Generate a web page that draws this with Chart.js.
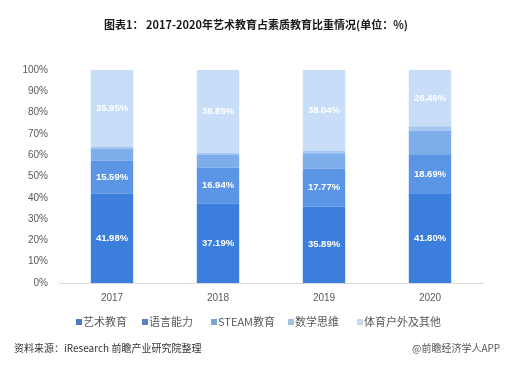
<!DOCTYPE html>
<html>
<head>
<meta charset="utf-8">
<script src="https://cdn.jsdelivr.net/npm/chart.js@4.4.0/dist/chart.umd.min.js"></script>
<style>
  html, body { margin: 0; padding: 0; background: #fff; }
  #grafico { display: block; }
</style>
</head>
<body>
<canvas id="grafico" width="518" height="368"></canvas>
<script>
const anos = ['2017', '2018', '2019', '2020'];
const series = ['艺术教育', '语言能力', 'STEAM教育', '数学思维', '体育户外及其他'];
const arteEducacao = [41.98, 37.19, 35.89, 41.80];
const linguagem = [15.59, 16.94, 17.77, 18.69];
const steam = [5.6, 6.0, 7.3, 11.1];
const matematica = [0.88, 1.02, 1.0, 1.95];
const esporte = [35.95, 38.85, 38.04, 26.46];
const rotulados = [true, true, false, false, true];
const yTicks = [0, 10, 20, 30, 40, 50, 60, 70, 80, 90, 100];

const titulo = '图表1： 2017-2020年艺术教育占素质教育比重情况(单位：%)';
const fonte = '资料来源：iResearch 前瞻产业研究院整理';
const marca = '@前瞻经济学人APP';

const cores = ['#3b7edb', '#5b95e6', '#7eadeb', '#a6c7f2', '#c7ddf8'];
const coresLegenda = ['#4a7bc4', '#5583c4', '#7aa3d2', '#a4bfe0', '#c9daee'];
const valores = [arteEducacao, linguagem, steam, matematica, esporte];

const cjk = '"Microsoft YaHei", "Noto Sans CJK SC", sans-serif';
const latina = '"Liberation Sans", Arial, sans-serif';

const extras = {
    id: 'extras',
    afterDatasetsDraw(chart) {
        const ctx = chart.ctx;
        // rótulos dentro das barras
        ctx.save();
        ctx.fillStyle = '#ffffff';
        ctx.font = 'bold 9.5px ' + latina;
        ctx.textAlign = 'center';
        ctx.textBaseline = 'middle';
        chart.data.datasets.forEach((ds, i) => {
            if (!rotulados[i]) return;
            const meta = chart.getDatasetMeta(i);
            meta.data.forEach((bar, j) => {
                const meio = (bar.y + bar.base) / 2;
                ctx.fillText(ds.data[j].toFixed(2) + '%', bar.x, meio);
            });
        });
        ctx.restore();
    },
    afterDraw(chart) {
        const ctx = chart.ctx;
        ctx.save();
        // título
        ctx.fillStyle = '#1a1a1a';
        ctx.font = 'bold 11px ' + cjk;
        ctx.textAlign = 'center';
        ctx.textBaseline = 'middle';
        ctx.fillText(titulo, 256, 25);

        // legenda
        const posX = [76, 142, 211, 288, 357];
        ctx.font = '11px ' + cjk;
        ctx.textAlign = 'left';
        series.forEach((nome, i) => {
            ctx.fillStyle = coresLegenda[i];
            ctx.fillRect(posX[i], 319, 6, 6);
            ctx.fillStyle = '#595959';
            ctx.fillText(nome, posX[i] + 7, 322);
        });

        // rodapé
        ctx.fillStyle = '#333333';
        ctx.font = '10px ' + cjk;
        ctx.fillText(fonte, 14, 348);
        ctx.fillStyle = '#555555';
        ctx.fillText(marca, 412, 348);
        ctx.restore();
    }
};

const canvas = document.getElementById('grafico');
new Chart(canvas.getContext('2d'), {
    type: 'bar',
    data: {
        labels: anos,
        datasets: series.map((nome, i) => ({
            label: nome,
            data: valores[i],
            backgroundColor: cores[i],
            borderWidth: 0,
            categoryPercentage: 1,
            barPercentage: 0.4,
        })),
    },
    options: {
        responsive: false,
        animation: false,
        layout: { padding: { left: 8, right: 35, top: 70, bottom: 61 } },
        plugins: {
            legend: { display: false },
            title: { display: false },
            tooltip: { enabled: false },
        },
        scales: {
            x: {
                stacked: true,
                grid: { display: false, drawTicks: false },
                border: { color: '#d9d9d9', width: 1 },
                ticks: {
                    color: '#595959',
                    font: { size: 10, family: latina },
                    padding: 9,
                },
                afterFit(scale) { scale.height = 24; },
            },
            y: {
                stacked: true,
                min: 0,
                max: 100,
                afterBuildTicks(scale) { scale.ticks = yTicks.map(v => ({ value: v })); },
                afterFit(scale) { scale.width = 51; },
                grid: { display: false, drawTicks: false },
                border: { display: false },
                ticks: {
                    color: '#595959',
                    font: { size: 10, family: latina },
                    padding: 11,
                    callback: v => v + '%',
                },
            },
        },
    },
    plugins: [extras],
});
</script>
</body>
</html>
